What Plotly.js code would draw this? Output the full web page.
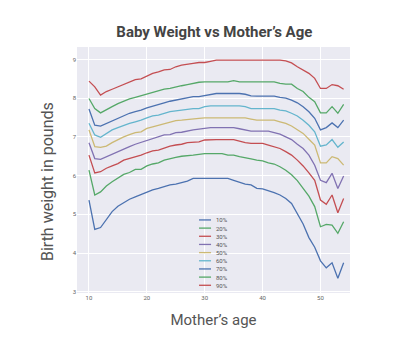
<!DOCTYPE html>
<html>
<head>
<meta charset="utf-8">
<script src="https://cdn.plot.ly/plotly-3.0.1.min.js"></script>
<style>html,body{margin:0;padding:0;background:#fff;}#chart{width:397px;height:352px;}</style>
</head>
<body>
<div id="chart"></div>
<script>
// Mother's age (years)
const ages = [10,11,12,13,14,15,16,17,18,19,20,21,22,23,24,25,26,27,28,29,30,31,32,33,34,35,36,37,38,39,40,41,42,43,44,45,46,47,48,49,50,51,52,53,54];

// Birth-weight percentiles (pounds)
const p10 = [5.37,4.61,4.66,4.85,5.07,5.21,5.30,5.39,5.45,5.51,5.58,5.63,5.67,5.71,5.76,5.78,5.82,5.86,5.93,5.93,5.93,5.93,5.93,5.93,5.93,5.88,5.84,5.78,5.76,5.67,5.66,5.62,5.56,5.50,5.41,5.28,5.00,4.75,4.40,4.15,3.80,3.62,3.75,3.35,3.75];
const p20 = [6.14,5.50,5.58,5.73,5.84,5.94,6.03,6.08,6.16,6.16,6.25,6.30,6.33,6.40,6.44,6.47,6.50,6.51,6.53,6.55,6.57,6.57,6.57,6.57,6.53,6.53,6.49,6.45,6.43,6.40,6.38,6.33,6.30,6.23,6.14,6.02,5.87,5.67,5.47,5.20,4.68,4.74,4.72,4.51,4.81];
const p30 = [6.53,6.07,6.10,6.19,6.25,6.31,6.40,6.44,6.50,6.53,6.59,6.64,6.66,6.72,6.76,6.79,6.81,6.85,6.86,6.87,6.92,6.93,6.93,6.93,6.93,6.93,6.89,6.85,6.83,6.83,6.83,6.79,6.75,6.70,6.62,6.53,6.40,6.25,6.07,5.88,5.37,5.26,5.50,5.04,5.41];
const p40 = [6.85,6.44,6.42,6.49,6.56,6.63,6.70,6.75,6.81,6.86,6.92,6.96,7.00,7.05,7.06,7.11,7.12,7.16,7.18,7.20,7.22,7.24,7.24,7.24,7.24,7.24,7.21,7.18,7.15,7.15,7.15,7.15,7.11,7.07,7.00,6.93,6.81,6.70,6.53,6.27,5.88,5.82,6.06,5.67,5.99];
const p50 = [7.18,6.75,6.73,6.76,6.85,6.93,7.00,7.06,7.11,7.13,7.22,7.26,7.30,7.35,7.37,7.42,7.43,7.45,7.47,7.48,7.49,7.49,7.49,7.49,7.49,7.49,7.49,7.49,7.46,7.43,7.43,7.43,7.43,7.39,7.35,7.28,7.19,7.09,6.94,6.79,6.33,6.33,6.49,6.44,6.27];
const p60 = [7.35,7.05,6.99,7.09,7.18,7.24,7.30,7.35,7.39,7.43,7.49,7.54,7.56,7.61,7.65,7.67,7.69,7.72,7.73,7.73,7.78,7.80,7.80,7.80,7.80,7.80,7.80,7.78,7.73,7.73,7.73,7.73,7.73,7.69,7.67,7.61,7.54,7.43,7.30,7.13,6.76,6.79,6.93,6.73,6.87];
const p70 = [7.72,7.30,7.28,7.35,7.41,7.49,7.56,7.61,7.65,7.69,7.75,7.80,7.84,7.88,7.92,7.95,7.98,8.02,8.04,8.04,8.07,8.10,8.12,8.12,8.12,8.12,8.12,8.10,8.06,8.05,8.05,8.05,8.05,8.02,8.00,7.95,7.88,7.78,7.65,7.48,7.18,7.24,7.36,7.24,7.43];
const p80 = [7.99,7.73,7.62,7.69,7.78,7.86,7.93,7.98,8.02,8.06,8.12,8.15,8.19,8.23,8.25,8.29,8.32,8.35,8.38,8.41,8.42,8.42,8.42,8.42,8.42,8.45,8.42,8.42,8.42,8.42,8.42,8.42,8.42,8.38,8.36,8.36,8.25,8.17,8.02,7.91,7.62,7.62,7.78,7.61,7.84];
const p90 = [8.44,8.29,8.08,8.17,8.23,8.29,8.36,8.42,8.48,8.50,8.57,8.64,8.68,8.73,8.74,8.81,8.85,8.88,8.90,8.92,8.92,8.95,8.98,8.98,8.98,8.98,8.98,8.98,8.98,8.98,8.98,8.98,8.98,8.98,8.96,8.91,8.81,8.72,8.64,8.51,8.25,8.25,8.35,8.32,8.23];

const seriesNames = ['10%','20%','30%','40%','50%','60%','70%','80%','90%'];
const seriesValues = [p10,p20,p30,p40,p50,p60,p70,p80,p90];
const seriesColors = ['#4C72B0','#55A868','#C44E52','#8172B2','#CCB974','#64B5CD','#4C72B0','#55A868','#C44E52'];

const xTicks = [10,20,30,40,50];
const yTicks = [3,4,5,6,7,8,9];

const traces = seriesValues.map((vals, i) => ({
  x: ages, y: vals, type: 'scatter', mode: 'lines', name: seriesNames[i],
  line: {color: seriesColors[i], width: 1.3}, showlegend: false
}));

// compact legend (matplotlib-style) built from the series names/colours
const shapes = [], annotations = [];
const legX0 = 0.447, legX1 = 0.491, legTX = 0.502, legTop = 0.297, legStep = 0.0332;
seriesNames.forEach((n, i) => {
  const yy = legTop - i * legStep;
  shapes.push({type: 'line', xref: 'paper', yref: 'paper', x0: legX0, x1: legX1, y0: yy, y1: yy,
               line: {color: seriesColors[i], width: 1.3}});
  annotations.push({xref: 'paper', yref: 'paper', x: legTX, y: yy, text: n, showarrow: false,
                    xanchor: 'left', yanchor: 'middle', font: {size: 6, color: '#555', family: 'Roboto, sans-serif'}});
});
// y-axis title (placed slightly below axis centre, as in the reference)
annotations.push({xref: 'paper', yref: 'paper', x: -0.11, y: 0.455, text: 'Birth weight in pounds', textangle: -90,
                  showarrow: false, xanchor: 'center', yanchor: 'middle', font: {size: 16, color: '#555', family: 'Roboto, sans-serif'}});

const layout = {
  width: 397, height: 352,
  margin: {l: 77, r: 47, t: 47, b: 59},
  paper_bgcolor: '#ffffff', plot_bgcolor: '#EAEAF2',
  font: {family: 'Roboto, sans-serif', color: '#555'},
  title: {text: 'Baby Weight vs Mother\u2019s Age', x: 0.54, xanchor: 'center', y: 0.91, yanchor: 'middle',
          font: {size: 15, color: '#444', family: 'Roboto, sans-serif', weight: 'bold'}},
  xaxis: {range: [7.93, 55.1], tickvals: xTicks, ticktext: xTicks.map(String), showgrid: true, gridcolor: '#ffffff', gridwidth: 1,
          zeroline: false, showline: false, ticks: '', tickfont: {size: 6, color: '#666'},
          title: {text: 'Mother\u2019s age', font: {size: 15, color: '#555'}, standoff: 14}},
  yaxis: {range: [2.97, 9.32], tickvals: yTicks, ticktext: yTicks.map(String), showgrid: true, gridcolor: '#ffffff', gridwidth: 1,
          zeroline: false, showline: false, ticks: '', tickfont: {size: 6, color: '#666'}},
  shapes: shapes, annotations: annotations, showlegend: false
};

Plotly.newPlot('chart', traces, layout, {staticPlot: true, displayModeBar: false});
</script>
</body>
</html>
